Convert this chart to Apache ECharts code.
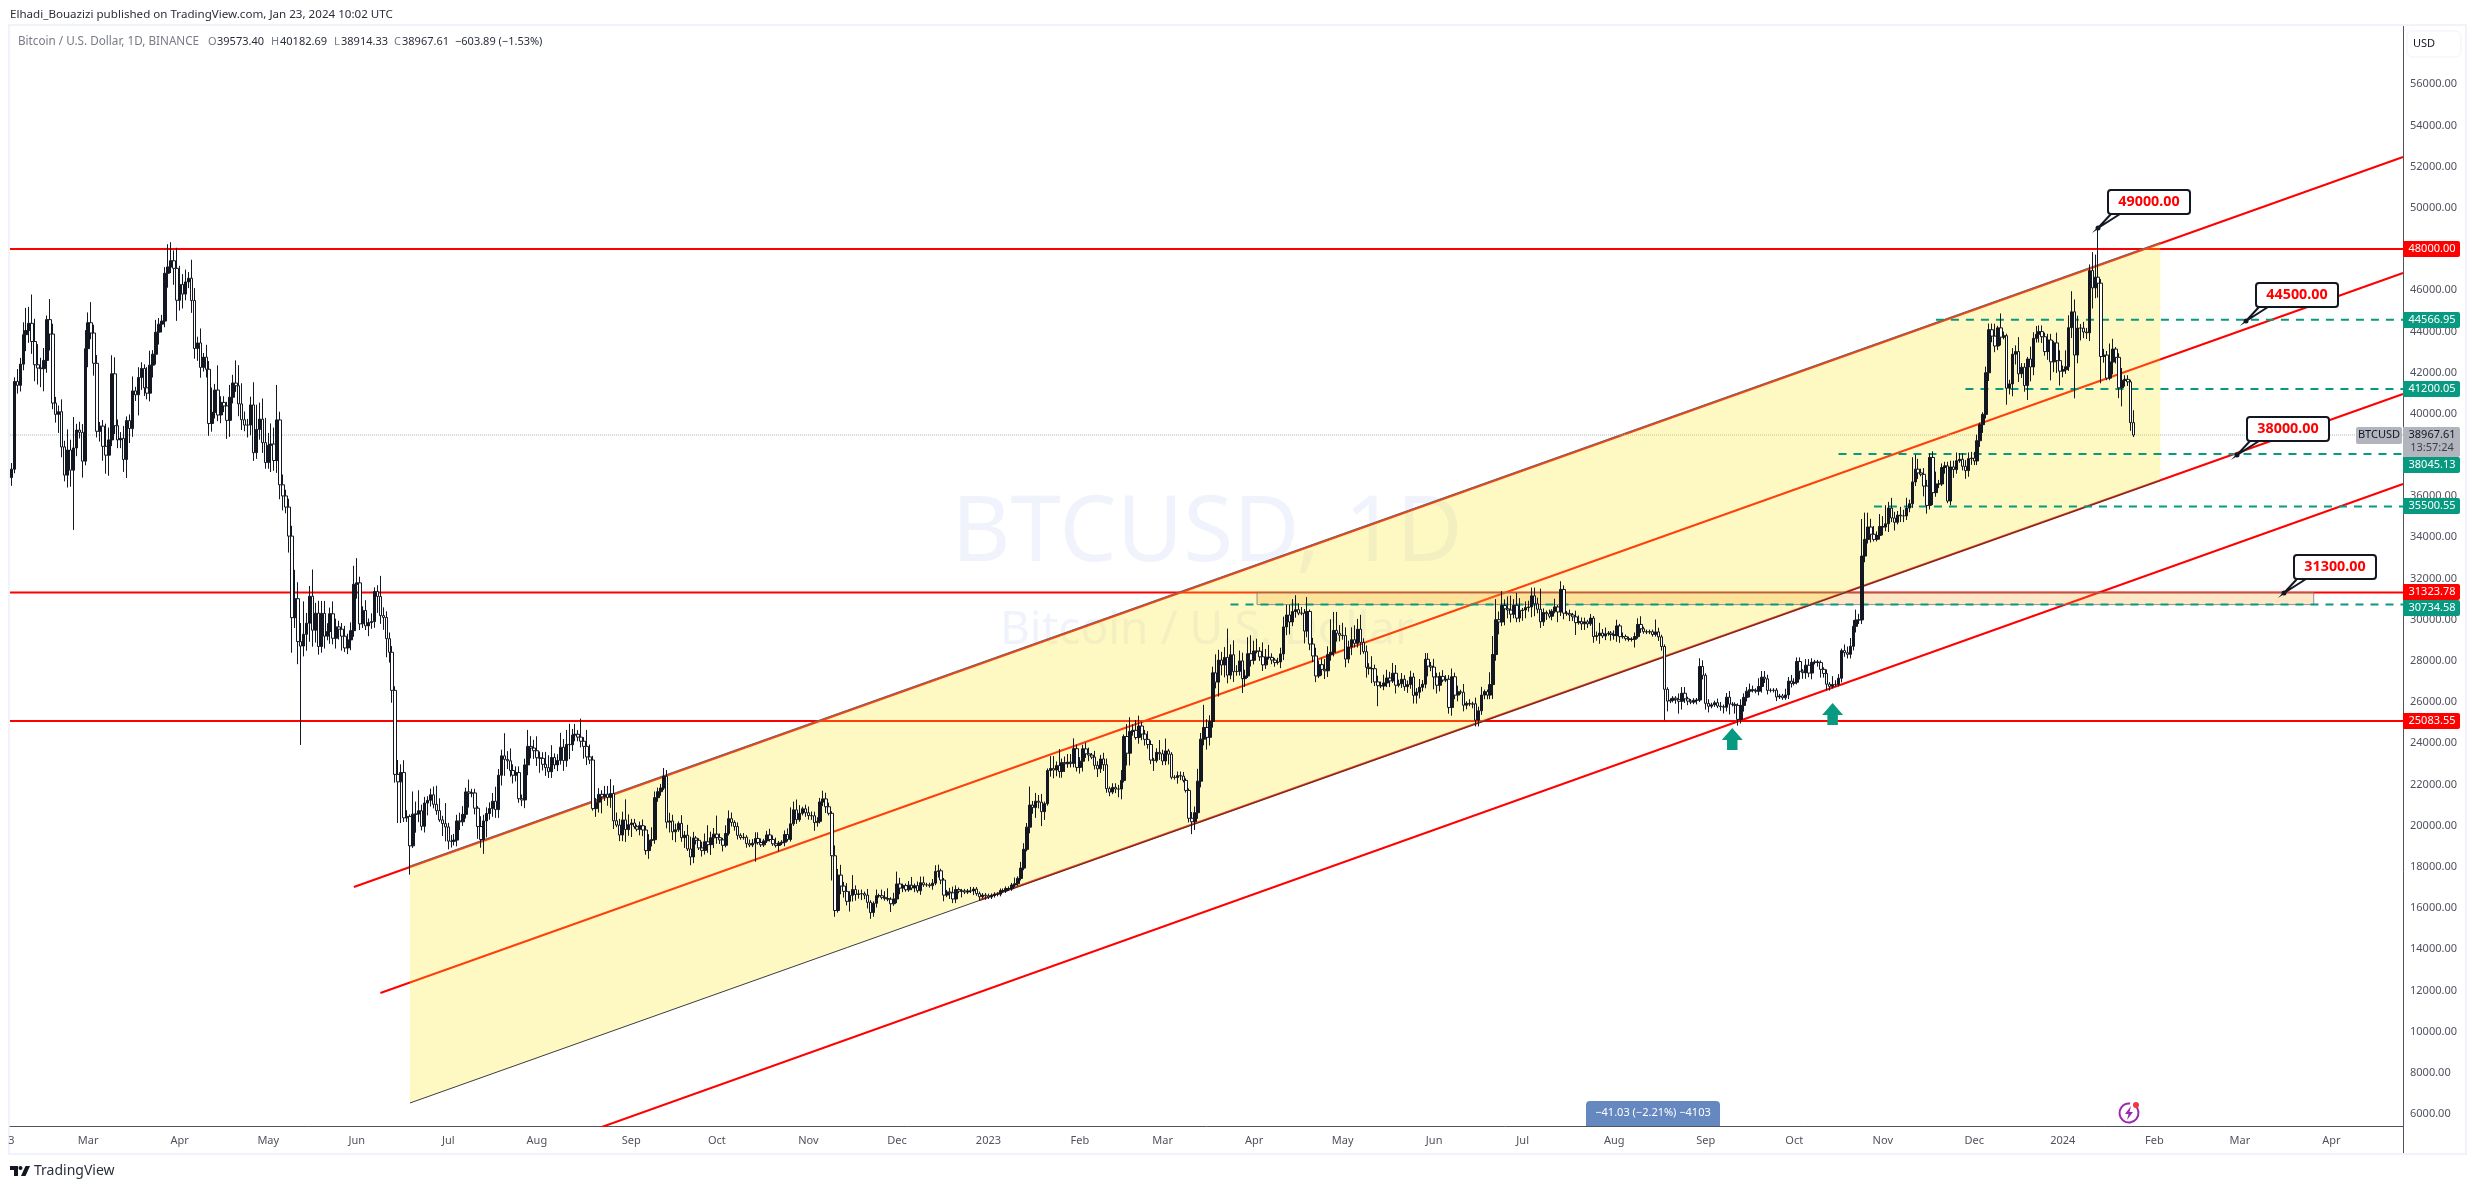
<!DOCTYPE html>
<html>
<head>
<meta charset="utf-8">
<title>BTCUSD 1D</title>
<script src="https://cdn.jsdelivr.net/npm/echarts@6/dist/echarts.min.js"></script>
<style>
html, body { margin: 0; padding: 0; background: #fff; }
#chart { width: 2475px; height: 1189px; }
</style>
</head>
<body>
<div id="chart"></div>
<script>
// 日线第一根的日期，收盘价逐日排列（每行一个月）。
const firstDay = "2022-02-03";
const firstOpen = 36900;
const closes = [
    37310,41570,41380,42410,43840,44040,44390,43510,42380,42220,42190,42590,44570,43870,40520,39970,40100,38390,37020,38240,37260,38340,39210,39100,37700,43160,
    44420,43920,42450,39150,39400,38420,37990,38730,41940,39420,38730,38810,37780,39670,39280,41110,40920,41760,42200,41260,41000,42360,42890,43960,44350,44500,46820,47130,47430,47060,45510,
    46280,45810,46400,46580,45500,43170,43440,42250,42750,42160,39530,40070,41150,39940,40550,40380,39680,40800,41490,41360,40480,39710,39450,39450,40430,38110,39240,39740,38600,37630,
    38470,38530,37730,39700,36550,36010,35470,34060,30100,31020,28940,28720,29290,29830,31140,29490,30320,28700,30310,29200,29430,30290,29100,29650,29540,29200,28630,29020,29470,31720,31790,
    29800,30450,29700,29860,29910,31370,31130,30200,30110,29080,28420,26570,22490,22130,22580,20380,20450,19020,20560,20570,20720,19970,21100,21230,21500,21040,20730,20280,20100,19940,
    19250,19240,19300,20230,20190,20550,21640,21580,21590,20850,19960,19330,20230,20590,20830,21190,20780,22450,23390,23220,23150,22680,22450,22580,21310,21250,22950,23850,23770,23640,23300,
    23270,22980,22820,22620,23310,22950,23170,23810,23160,23950,23930,24400,24440,24300,24100,23850,23340,23190,20830,21140,21520,21400,21530,21370,21560,20240,20030,19550,20280,19810,20050,
    20130,19950,19830,20000,19790,18790,19290,19320,21360,21650,21830,22400,20170,20230,19700,19800,20110,19420,19540,18870,18480,19400,19290,18920,18800,19220,19080,19410,19590,19420,
    19310,19050,19620,20340,20160,19960,19530,19420,19440,19130,19060,19150,19380,19180,19070,19260,19550,19330,19120,19040,19160,19200,19570,19330,20090,20770,20290,20600,20820,20630,20490,
    20480,20150,20210,21150,21300,20920,20600,18540,15880,17600,17070,16810,16330,16620,16900,16660,16690,16700,16630,16280,15780,16230,16600,16600,16520,16460,16430,16210,16440,17170,
    16970,17090,16890,17110,16970,17090,16840,17230,17130,17130,17090,17210,17780,17810,17360,16630,16780,16740,16440,16900,16820,16830,16780,16830,16830,16920,16700,16550,16630,16600,16540,
    16610,16670,16670,16850,16830,16950,16940,17120,17180,17440,17940,18850,19930,21000,20880,21190,21140,20680,21070,22680,22780,22700,22920,22630,23060,23010,23080,23030,23740,22830,23130,
    23730,23490,23430,23330,22930,22760,23240,22960,21800,21630,21860,21780,21780,22200,24330,23520,24570,24630,24280,24840,24450,24190,23940,23190,23160,23560,23490,23140,
    23630,23470,22350,22340,22430,22410,22200,21710,20360,20190,20630,22160,24200,24770,24290,25060,27420,26970,28040,27800,28170,27310,28300,27480,27490,28000,27140,27270,28350,28030,28480,
    28470,28200,27810,28180,28170,28040,27920,27950,28340,29650,30230,29890,30400,30490,30320,30320,29450,30400,28820,28240,27270,27820,27590,27520,28310,28420,29480,29340,29250,29230,
    28090,28680,29030,28850,29540,28900,28450,27690,27630,27620,26980,26800,26780,26930,27170,27030,27400,26820,26890,27110,26750,26850,27220,26330,26480,26720,26870,28080,27750,27700,27220,
    26820,27250,27070,27110,25740,27230,26340,26500,26480,25850,25940,25900,25920,25120,25580,26340,26510,26340,26850,28310,30000,29890,30690,30530,30470,30270,30700,30080,30450,30470,
    30590,30620,31160,30770,30510,29900,30350,30290,30170,30410,30620,30380,31470,30320,30290,30230,30140,29860,29910,29800,29900,29800,30080,29180,29230,29350,29210,29320,29350,29280,29230,
    29700,29180,29180,29080,29040,29050,29180,29770,29560,29420,29400,29420,29280,29410,29170,28700,26620,26050,26090,26190,26120,26040,26430,26160,26050,26000,26090,26100,27730,27300,25940,
    25800,25870,25970,25810,25780,25750,26240,25900,25890,25840,25160,25840,26230,26530,26600,26570,26530,26760,27210,27130,26570,26570,26580,26250,26300,26210,26350,27020,26910,26960,
    27970,27500,27430,27790,27410,27930,27950,27920,27590,27390,26870,26760,26860,26860,27160,28500,28400,28320,28710,29680,29990,29990,33090,33900,34500,34150,33900,34090,34530,34500,34660,
    35420,34940,34730,35080,35040,35040,35420,35630,36690,37310,37130,37060,36490,35550,37880,36170,36590,36590,37390,37470,35760,37420,37290,37720,37790,37450,37240,37820,37850,37710,
    38690,39470,39970,41990,44080,43770,43290,44170,43720,43790,41240,41450,42890,43020,41940,42260,41370,42660,42270,43660,43860,43990,43740,43020,43580,42520,43440,42580,42070,42140,42280,
    44180,44950,42850,44160,44160,43970,43930,46950,46110,46630,46340,42780,42850,41730,42510,43140,42740,41260,41620,41670,41550,39570,38968
];
// 上影线长度，单位百美元，排列同 closes。
const upperWicks = [
    3,2,6,3,6,11,8,14,11,10,5,6,2,10,5,3,3,6,3,10,5,15,3,4,4,9,
    5,10,4,4,2,3,11,6,9,8,3,3,6,2,3,7,2,5,3,2,10,7,2,6,3,3,3,11,9,5,10,
    9,5,6,3,9,6,3,7,2,6,4,12,3,12,3,3,2,6,4,11,10,10,4,3,4,11,12,8,10,12,
    6,10,8,17,4,5,3,4,5,14,8,9,16,5,5,13,5,6,6,6,4,3,6,4,3,3,5,3,4,9,12,
    3,2,5,2,4,2,3,10,4,3,3,3,2,7,4,6,3,1,11,6,10,3,3,2,3,4,9,6,2,10,
    2,3,3,3,4,4,2,6,2,2,1,5,3,3,3,4,7,3,3,11,4,6,3,3,3,2,3,8,5,4,7,
    3,3,6,6,6,2,3,7,4,7,10,3,5,2,9,2,8,6,2,2,3,2,4,4,7,4,4,3,4,10,5,
    2,2,1,2,3,2,3,6,3,2,2,4,3,4,3,3,1,4,2,5,6,3,1,1,3,4,8,3,3,9,
    2,1,4,4,3,1,2,1,2,1,2,2,3,3,2,1,2,3,2,3,1,1,2,3,8,4,5,4,1,2,3,
    2,2,2,2,4,3,2,1,5,3,5,2,4,2,7,2,2,2,1,3,1,1,3,1,3,3,5,1,3,6,
    3,1,1,2,4,1,2,3,3,1,1,2,3,3,1,1,1,2,3,2,1,1,1,1,2,1,1,1,1,1,1,
    1,1,1,1,1,1,1,1,3,1,3,3,2,9,2,4,3,4,1,1,6,6,2,8,2,3,4,4,5,2,2,
    2,3,3,1,3,2,2,3,3,1,2,2,2,5,1,6,7,3,5,5,2,2,4,2,1,2,6,2,
    6,1,1,1,2,2,2,1,1,3,3,6,3,11,4,3,3,9,5,4,5,14,5,7,3,5,4,3,8,9,5,
    6,2,7,4,6,2,1,2,3,5,5,5,6,7,3,3,2,7,1,3,4,2,3,5,4,16,9,9,4,6,
    4,3,6,7,5,7,2,3,2,6,2,3,2,4,4,3,5,4,2,3,2,2,3,2,2,4,2,3,3,2,4,
    2,2,3,2,2,4,2,3,1,4,1,2,1,3,2,4,1,1,6,9,10,4,7,3,6,7,3,6,6,1,
    3,3,4,4,3,10,2,1,2,1,4,1,4,2,1,2,1,3,3,2,2,1,2,1,2,5,2,3,1,1,2,
    3,1,2,1,1,1,2,3,4,1,1,1,1,6,2,1,1,1,1,1,1,3,3,3,1,1,1,1,4,3,1,
    2,1,1,2,2,1,2,3,1,1,1,3,2,2,3,2,1,4,3,3,2,1,1,1,1,1,3,2,3,2,
    2,2,1,3,3,2,1,1,1,1,2,1,4,2,2,1,3,3,4,3,5,3,18,13,7,4,4,2,6,5,9,
    3,5,3,2,4,3,5,2,12,7,5,2,3,3,2,3,6,2,2,2,2,3,3,4,3,3,3,3,3,3,
    3,1,1,3,3,3,6,1,7,2,1,2,3,3,7,2,2,1,6,3,4,3,3,2,3,3,1,5,5,2,8,
    6,10,6,6,2,3,2,3,9,11,24,2,3,2,9,5,1,2,6,2,2,1,6
];
// 下影线长度，单位百美元。
const lowerWicks = [
    4,2,4,3,3,8,6,6,8,8,9,11,6,8,3,4,9,5,3,6,8,29,4,3,8,2,
    9,3,6,3,5,7,9,10,3,4,4,4,6,9,7,4,3,10,6,4,3,4,6,5,6,4,3,7,3,8,10,
    5,7,3,3,6,5,6,5,2,4,6,4,3,3,4,3,9,8,3,3,6,5,3,6,5,4,3,5,5,3,
    3,13,5,6,7,7,3,8,17,5,11,48,5,8,9,8,6,4,3,6,2,6,3,5,5,7,2,3,5,3,7,
    3,2,2,5,3,3,8,4,6,9,5,6,4,20,20,2,2,14,1,9,4,2,3,6,3,2,2,1,6,7,
    4,3,2,3,4,2,2,7,2,3,6,4,7,8,3,4,4,4,5,8,4,3,4,3,2,3,4,5,5,4,4,
    7,3,4,3,3,2,3,2,5,3,7,3,3,2,3,6,4,2,1,4,5,8,2,4,5,4,1,3,3,6,3,
    6,1,1,3,3,2,4,3,2,2,2,1,3,5,4,5,1,2,5,1,4,3,2,1,3,2,4,5,5,3,
    2,3,1,1,2,2,2,1,1,2,1,1,9,1,1,1,1,1,1,1,3,1,2,1,1,1,2,1,1,2,2,
    2,4,2,1,2,3,1,12,3,1,4,3,2,5,3,3,2,3,2,3,3,2,2,1,1,1,1,4,1,2,
    3,2,1,1,1,2,1,2,1,1,1,2,1,3,2,3,1,3,2,2,1,3,1,1,1,2,1,2,1,2,1,
    1,1,1,1,1,1,1,1,1,1,1,1,1,3,3,5,3,7,4,1,3,4,3,3,3,4,2,2,2,2,3,
    5,2,3,1,2,4,2,3,2,2,1,2,4,5,1,6,6,2,1,3,3,3,2,2,5,1,3,2,
    2,5,1,1,3,2,1,1,2,6,4,3,3,3,6,4,3,3,7,5,6,4,2,5,2,2,7,4,1,3,2,
    1,2,3,2,1,2,2,1,3,3,4,6,2,3,1,1,6,3,3,3,3,1,3,4,3,3,2,4,3,2,
    4,2,4,2,2,6,1,5,3,7,2,10,1,2,2,3,1,4,1,2,2,3,2,4,4,3,2,2,5,2,6,
    4,3,1,1,3,4,2,3,1,3,2,1,2,3,3,2,2,2,2,7,3,6,2,8,4,4,2,2,2,5,
    4,2,5,6,2,3,2,3,1,2,1,5,2,3,1,3,2,6,1,3,3,2,1,3,2,4,1,2,1,3,2,
    3,3,1,1,1,1,4,1,2,1,1,1,1,1,2,2,15,5,1,1,2,6,4,2,2,1,1,2,1,2,3,
    3,1,1,1,2,3,2,5,1,4,3,2,3,2,3,1,1,2,3,2,2,1,1,2,1,1,1,2,2,1,
    1,4,3,3,2,3,1,2,4,2,3,2,1,1,1,2,2,2,2,2,3,2,2,3,2,4,1,1,2,4,2,
    4,2,4,1,3,3,2,2,2,2,3,1,5,4,2,6,2,2,1,3,1,2,4,2,1,2,4,3,3,2,
    2,3,4,2,4,3,3,2,4,1,8,3,6,5,4,2,3,7,7,4,2,4,3,2,4,9,5,6,7,3,2,
    2,5,21,4,6,3,3,4,10,5,7,13,3,1,1,6,3,5,9,3,2,4,1
];
if (closes.length !== upperWicks.length || closes.length !== lowerWicks.length) {
    throw new Error("length " + closes.length + " " + upperWicks.length + " " + lowerWicks.length);
}

// 时间轴范围和价格轴范围。
const axisStart = "2022-02-02T12:00:00Z";
const axisEnd = "2024-04-23T06:00:00Z";
const priceMin = 5419;
const priceMax = 58827;
const priceTicks = [6000,8000,10000,12000,14000,16000,18000,20000,22000,24000,26000,28000,30000,32000,34000,36000,38000,40000,42000,44000,46000,48000,50000,52000,54000,56000];
// 时间刻度文字及其在图上所处的日期。
const monthLabels = ["3","Mar","Apr","May","Jun","Jul","Aug","Sep","Oct","Nov","Dec","2023","Feb","Mar","Apr","May","Jun","Jul","Aug","Sep","Oct","Nov","Dec","2024","Feb","Mar","Apr"];
const monthDates = ["2022-02-03","2022-03-01","2022-04-01","2022-05-01","2022-05-31","2022-07-01","2022-07-31","2022-09-01","2022-09-30","2022-10-31","2022-11-30","2022-12-31","2023-01-31","2023-02-28","2023-03-31","2023-04-30","2023-05-31","2023-06-30","2023-07-31","2023-08-31","2023-09-30","2023-10-30","2023-11-30","2023-12-30","2024-01-30","2024-02-28","2024-03-30"];

// 四条红色趋势线。
const trendLines = [
    [["2022-05-30", 17023], [axisEnd, 52467]],
    [["2022-06-08", 11876], [axisEnd, 46835]],
    [["2022-12-28", 16392], [axisEnd, 40960]],
    [["2022-08-22", 5370], [axisEnd, 36590]]
];
// 水平红线与绿色虚线。
const redLevels = [48000, 31323.78, 25083.55];
const greenLevels = [44566.95, 41200.05, 38045.13, 35500.55, 30734.58];
const greenStarts = ["2023-11-17", "2023-11-27", "2023-10-15", "2023-10-27", "2023-03-23"];
// 黄色通道的四个角。
const channelStart = "2022-06-18";
const channelEnd = "2024-02-01";
const channelTop = [18043, 48315];
const channelBottom = [6535, 36760];
// 橙色矩形。
const boxDates = ["2023-04-01", "2024-03-24"];
const boxPrices = [31323.78, 30734.58];
// 标注。
const calloutDates = ["2024-01-11", "2024-03-01", "2024-02-27", "2024-03-14"];
const calloutPrices = [49000, 44500, 38000, 31300];
// 绿色箭头。
const arrowDates = ["2023-09-09", "2023-10-13"];
const arrowPrices = [24210, 25422];
const lastPrice = 38967.61;

const GREEN = "#089981";
const RED = "#ff0000";
const FONT = "'Noto Sans', sans-serif";
const DAY = 86400000;
const ms = value => new Date(value).getTime();

// 开盘取前一日收盘，组成 [时间, 开, 收, 低, 高]。
const start = ms(firstDay);
const candleData = closes.map((close, i) => {
    const open = i === 0 ? firstOpen : closes[i - 1];
    return [start + i * DAY, open, close,
        Math.min(open, close) - lowerWicks[i] * 100,
        Math.max(open, close) + upperWicks[i] * 100];
});

// 画一条线系列。
function lineSeries(points, color, width, z, type) {
    return {
        type: "line",
        data: points.map(p => [ms(p[0]), p[1]]),
        symbol: "none",
        silent: true,
        z,
        lineStyle: { color, width, type: type || "solid" }
    };
}

// 画一段只用 renderItem 的自定义系列。
function drawSeries(z, renderItem, data) {
    return {
        type: "custom",
        silent: true,
        z,
        data: data || [[0]],
        encode: { x: -1, y: -1 },
        renderItem
    };
}

function renderChannel(params, api) {
    const points = [
        api.coord([ms(channelStart), channelTop[0]]),
        api.coord([ms(channelEnd), channelTop[1]]),
        api.coord([ms(channelEnd), channelBottom[1]]),
        api.coord([ms(channelStart), channelBottom[0]])
    ];
    return { type: "polygon", shape: { points }, style: { fill: "rgba(250,230,40,0.28)" } };
}

function renderBox(params, api) {
    const a = api.coord([ms(boxDates[0]), boxPrices[0]]);
    const b = api.coord([ms(boxDates[1]), boxPrices[1]]);
    return {
        type: "rect",
        shape: { x: a[0], y: a[1], width: b[0] - a[0], height: b[1] - a[1] },
        style: { fill: "rgba(250,160,30,0.25)", stroke: "rgba(120,120,120,0.8)", lineWidth: 1 }
    };
}

function renderCallout(params, api) {
    const i = params.dataIndex;
    const p = api.coord([ms(calloutDates[i]), calloutPrices[i]]);
    const x = Math.round(p[0]);
    const y = Math.round(p[1]);
    const boxX = x + 10;
    const boxY = y - 38;
    return {
        type: "group",
        children: [
            { type: "rect", shape: { x: boxX, y: boxY, width: 82, height: 24, r: 3 }, style: { fill: "#fff", stroke: "#131722", lineWidth: 2 } },
            { type: "polygon", shape: { points: [[x, y], [boxX + 3, boxY + 25], [boxX + 12, boxY + 25]] }, style: { fill: "#fff" } },
            { type: "polyline", shape: { points: [[boxX + 12, boxY + 24], [x, y], [boxX + 3, boxY + 24]] }, style: { stroke: "#131722", lineWidth: 2, fill: "none" } },
            { type: "circle", shape: { cx: x, cy: y, r: 2.5 }, style: { fill: "#131722" } },
            { type: "text", style: { x: boxX + 41, y: boxY + 12, text: calloutPrices[i].toFixed(2), fill: RED, font: "bold 14.3px " + FONT, textAlign: "center", textVerticalAlign: "middle" } }
        ]
    };
}

// 价格轴上的小标签，nudge 用来避开相邻标签。
const tagNudge = { 38045.13: 11, 30734.58: 3 };
function renderTag(params, api, levels, color) {
    const level = levels[params.dataIndex];
    const p = api.coord([ms(axisEnd), level]);
    const y = Math.round(p[1]) + (tagNudge[level] || 0);
    return {
        type: "group",
        children: [
            { type: "rect", shape: { x: p[0], y: y - 8, width: 57, height: 16, r: [0, 2, 2, 0] }, style: { fill: color } },
            { type: "text", style: { x: p[0] + 29, y, text: level.toFixed(2), fill: "#fff", font: "11px " + FONT, textAlign: "center", textVerticalAlign: "middle" } }
        ]
    };
}

function renderPriceTag(params, api) {
    const p = api.coord([ms(axisEnd), lastPrice]);
    const y = Math.round(p[1]);
    return {
        type: "group",
        children: [
            { type: "rect", shape: { x: p[0] - 47, y: y - 8, width: 46, height: 17, r: 2 }, style: { fill: "#b2b5be" } },
            { type: "text", style: { x: p[0] - 24, y, text: "BTCUSD", fill: "#131722", font: "11px " + FONT, textAlign: "center", textVerticalAlign: "middle" } },
            { type: "rect", shape: { x: p[0], y: y - 8, width: 57, height: 30, r: [0, 2, 2, 0] }, style: { fill: "#b2b5be" } },
            { type: "text", style: { x: p[0] + 29, y, text: lastPrice.toFixed(2), fill: "#131722", font: "11px " + FONT, textAlign: "center", textVerticalAlign: "middle" } },
            { type: "text", style: { x: p[0] + 29, y: y + 13, text: "13:57:24", fill: "#3c3f48", font: "11px " + FONT, textAlign: "center", textVerticalAlign: "middle" } }
        ]
    };
}

const chart = echarts.init(document.getElementById("chart"), null, { renderer: "canvas" });

// 顶部图例的文字片段。
const legendPieces = [
    ["Bitcoin / U.S. Dollar, 1D, BINANCE", 18, "#787b86", 11.7],
    ["O", 208, "#787b86", 11], ["39573.40", 217, "#2a2e39", 11],
    ["H", 271, "#787b86", 11], ["40182.69", 280, "#2a2e39", 11],
    ["L", 334, "#787b86", 11], ["38914.33", 341, "#2a2e39", 11],
    ["C", 394, "#787b86", 11], ["38967.61", 402, "#2a2e39", 11],
    ["\u2212603.89 (\u22121.53%)", 455, "#2a2e39", 11]
];

const frame = "#f0f3fa";
const graphicItems = [
    { type: "text", z: 0, style: { x: 1207, y: 535, text: "BTCUSD, 1D", fill: "rgba(110,140,220,0.1)", font: "91px " + FONT, textAlign: "center", textVerticalAlign: "middle" } },
    { type: "text", z: 0, style: { x: 1207, y: 631, text: "Bitcoin / U.S. Dollar", fill: "rgba(110,140,220,0.1)", font: "46px " + FONT, textAlign: "center", textVerticalAlign: "middle" } },
    { type: "text", style: { x: 10, y: 15, text: "Elhadi_Bouazizi published on TradingView.com, Jan 23, 2024 10:02 UTC", fill: "#2a2e39", font: "11.6px " + FONT, textVerticalAlign: "middle" } },
    { type: "rect", z: 0, shape: { x: 9, y: 25, width: 2457, height: 1129 }, style: { fill: "none", stroke: frame, lineWidth: 2 } },
    { type: "line", z: 5, shape: { x1: 2403.5, y1: 26, x2: 2403.5, y2: 1153 }, style: { stroke: "#50535e", lineWidth: 1 } },
    { type: "rect", shape: { x: 2407, y: 31, width: 54, height: 26, r: 5 }, style: { fill: "#fff", stroke: frame, lineWidth: 1 } },
    { type: "text", style: { x: 2424, y: 44, text: "USD", fill: "#131722", font: "11px " + FONT, textAlign: "center", textVerticalAlign: "middle" } },
    { type: "rect", z: 6, shape: { x: 1586, y: 1101, width: 134, height: 25, r: [4, 4, 0, 0] }, style: { fill: "#6488bf" } },
    { type: "text", z: 7, style: { x: 1653, y: 1113, text: "\u221241.03 (\u22122.21%) \u22124103", fill: "#fff", font: "11px " + FONT, textAlign: "center", textVerticalAlign: "middle" } },
    { type: "arc", z: 6, shape: { cx: 2129, cy: 1113, r: 9.5, startAngle: -0.9, endAngle: -1.45, clockwise: true }, style: { fill: "none", stroke: "#9c27b0", lineWidth: 2 } },
    { type: "polygon", z: 6, shape: { points: [[2131, 1106], [2125, 1114], [2128.5, 1114], [2127, 1120], [2133, 1112], [2129.5, 1112]] }, style: { fill: "#9c27b0" } },
    { type: "circle", z: 6, shape: { cx: 2136, cy: 1105, r: 3 }, style: { fill: "#f23645" } },
    { type: "polygon", shape: { points: [[10, 1166], [18, 1166], [18, 1176], [14, 1176], [14, 1170], [10, 1170]] }, style: { fill: "#131722" } },
    { type: "polygon", shape: { points: [[21, 1176], [25.5, 1166], [30, 1166], [25.5, 1176]] }, style: { fill: "#131722" } },
    { type: "circle", shape: { cx: 20.5, cy: 1168, r: 2 }, style: { fill: "#131722" } },
    { type: "text", style: { x: 34, y: 1171, text: "TradingView", fill: "#2a2e39", font: "14px " + FONT, textVerticalAlign: "middle" } }
];
legendPieces.forEach(piece => {
    graphicItems.push({ type: "text", style: { x: piece[1], y: 42, text: piece[0], fill: piece[2], font: piece[3] + "px " + FONT, textVerticalAlign: "middle" } });
});

const series = [
    // 红线在最下面，黄色通道盖在上面后呈橙色。
    ...trendLines.map(points => lineSeries(points, RED, 2, 2)),
    ...redLevels.map(level => lineSeries([[axisStart, level], [axisEnd, level]], RED, 2, 2)),
    lineSeries([[axisStart, lastPrice], [axisEnd, lastPrice]], "#b2b5be", 1, 2, "dotted"),
    drawSeries(3, renderChannel),
    lineSeries([[channelStart, channelTop[0]], [channelEnd, channelTop[1]]], "#6b6b6b", 1, 4),
    lineSeries([[channelStart, channelBottom[0]], [channelEnd, channelBottom[1]]], "#3c3c3c", 1, 4),
    ...greenLevels.map((level, i) => lineSeries([[greenStarts[i], level], [axisEnd, level]], GREEN, 2, 4, [8, 7])),
    drawSeries(4, renderBox),
    {
        type: "candlestick",
        data: candleData,
        encode: { x: 0, y: [1, 2, 3, 4] },
        barWidth: 3,
        large: false,
        progressive: 0,
        silent: true,
        z: 5,
        itemStyle: { color: "#131722", color0: "#ffffff", borderColor: "#131722", borderColor0: "#131722", borderWidth: 1 }
    },
    {
        type: "scatter",
        data: arrowDates.map((date, i) => [ms(date), arrowPrices[i]]),
        symbol: "path://M10,0 L20,12 L15,12 L15,22 L5,22 L5,12 L0,12 Z",
        symbolSize: [21, 22],
        silent: true,
        z: 6,
        itemStyle: { color: GREEN, opacity: 1 }
    },
    drawSeries(7, renderCallout, calloutPrices.map(v => [v])),
    drawSeries(8, renderPriceTag),
    drawSeries(9, (p, api) => renderTag(p, api, greenLevels, GREEN), greenLevels.map(v => [v])),
    drawSeries(9, (p, api) => renderTag(p, api, redLevels, RED), redLevels.map(v => [v]))
];

chart.setOption({
    animation: false,
    useUTC: true,
    backgroundColor: "#ffffff",
    textStyle: { fontFamily: FONT },
    grid: { left: 10, right: 72, top: 26, bottom: 63 },
    xAxis: {
        type: "value",
        min: ms(axisStart),
        max: ms(axisEnd),
        scale: true,
        axisLine: { show: true, onZero: false, lineStyle: { color: "#50535e", width: 1 } },
        axisTick: { show: false },
        splitLine: { show: false },
        axisLabel: {
            customValues: monthDates.map(ms),
            formatter: value => monthLabels[monthDates.map(ms).indexOf(value)] || "",
            color: "#50535e",
            fontSize: 11,
            fontFamily: FONT,
            margin: 9,
            hideOverlap: false,
            showMinLabel: true,
            showMaxLabel: true
        }
    },
    yAxis: {
        type: "value",
        position: "right",
        min: priceMin,
        max: priceMax,
        axisLine: { show: false },
        axisTick: { show: false },
        splitLine: { show: false },
        axisLabel: {
            customValues: priceTicks,
            formatter: value => value.toFixed(2),
            color: "#50535e",
            fontSize: 11,
            fontFamily: FONT,
            margin: 7,
            showMinLabel: true,
            showMaxLabel: true
        }
    },
    graphic: { elements: graphicItems },
    series
});
</script>
</body>
</html>
